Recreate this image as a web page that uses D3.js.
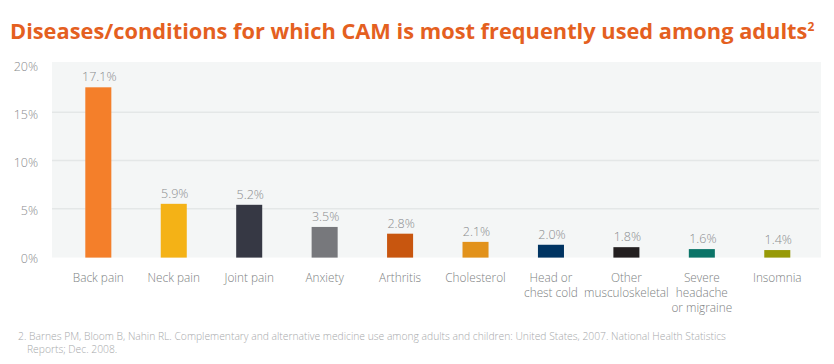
<!DOCTYPE html>
<html>
<head>
<meta charset="utf-8">
<script src="https://cdn.jsdelivr.net/npm/d3@7"></script>
<style>
  body { margin: 0; background: #fff; }
  svg { display: block; font-family: "Open Sans", "Noto Sans", sans-serif; }
</style>
</head>
<body>
<svg id="chart"></svg>
<script>
var width = 834;
var height = 364;

// categories, bar heights (as drawn) and the printed value labels
let categories = ['Back pain', 'Neck pain', 'Joint pain', 'Anxiety', 'Arthritis', 'Cholesterol',
    'Head or chest cold', 'Other musculoskeletal', 'Severe headache or migraine', 'Insomnia']
let categoryLines = [['Back pain'], ['Neck pain'], ['Joint pain'], ['Anxiety'], ['Arthritis'], ['Cholesterol'],
    ['Head or', 'chest cold'], ['Other', 'musculoskeletal'], ['Severe', 'headache', 'or migraine'], ['Insomnia']]
let barValues = [17.6, 5.5, 5.4, 3.1, 2.4, 1.55, 1.25, 1.0, 0.8, 0.7]
let valueLabels = ['17.1%', '5.9%', '5.2%', '3.5%', '2.8%', '2.1%', '2.0%', '1.8%', '1.6%', '1.4%']
let barColors = ['#f47f2a', '#f4b216', '#363844', '#77787c', '#c8560f', '#e2921b', '#003462', '#231f20', '#0b7468', '#979a07']
let yTicks = [0, 5, 10, 15, 20]

const title = 'Diseases/conditions for which CAM is most frequently used among adults'
const footnote = ['2. Barnes PM, Bloom B, Nahin RL. Complementary and alternative medicine use among adults and children: United States, 2007. National Health Statistics',
    'Reports; Dec. 2008.']

var svg = d3.select('#chart').attr('width', width).attr('height', height)

const plotLeft = 52, plotRight = 821, plotTop = 62, plotBottom = 257.5

var y = d3.scaleLinear().domain([0, 20]).range([256.8, 64.2])

var x = d3.scaleBand()
    .domain(categories)
    .range([60.6, 815])
    .paddingInner(0.655)
    .paddingOuter(0.3275)

// title
var titleText = svg.append('text')
    .attr('x', 10)
    .attr('y', 39)
    .attr('fill', '#e4601f')
    .attr('font-size', 21.8)
    .attr('font-weight', 'bold')
    .text(title)
titleText.append('tspan')
    .attr('font-size', 12)
    .attr('dy', -8)
    .text('2')

// plot background
svg.append('rect')
    .attr('x', plotLeft)
    .attr('y', plotTop)
    .attr('width', plotRight - plotLeft)
    .attr('height', plotBottom - plotTop)
    .attr('fill', '#f4f6f6')

// gridlines
svg.append('g')
    .selectAll('line')
    .data(yTicks.filter(d => d > 0 && d < 20))
    .enter()
    .append('line')
    .attr('x1', plotLeft)
    .attr('x2', plotRight - 2)
    .attr('y1', d => y(d))
    .attr('y2', d => y(d))
    .attr('stroke', '#e4e7e7')
    .attr('stroke-width', 1.5)

// y axis labels
var yAxis = d3.axisLeft(y).tickValues(yTicks).tickFormat(d => d + '%').tickSize(0).tickPadding(0)
var yAxisG = svg.append('g')
    .attr('transform', 'translate(38,2)')
    .call(yAxis)
yAxisG.select('.domain').remove()
yAxisG.selectAll('text')
    .attr('fill', '#8a8c8e')
    .attr('font-size', 12.5)
    .attr('font-weight', 300)
    .attr('font-family', '"Open Sans", "Noto Sans", sans-serif')

// bars
svg.append('g')
    .selectAll('rect')
    .data(categories)
    .enter()
    .append('rect')
    .attr('x', d => x(d))
    .attr('width', x.bandwidth())
    .attr('y', (d, i) => y(barValues[i]))
    .attr('height', (d, i) => y(0) - y(barValues[i]) + 0.8)
    .attr('fill', (d, i) => barColors[i])

// value labels
svg.append('g')
    .selectAll('text')
    .data(categories)
    .enter()
    .append('text')
    .attr('x', d => x(d) + x.bandwidth() / 2 + 1)
    .attr('y', (d, i) => y(barValues[i]) - 6)
    .attr('text-anchor', 'middle')
    .attr('fill', '#8a8c8e')
    .attr('font-size', 12.5)
    .attr('font-weight', 300)
    .text((d, i) => valueLabels[i])

// category labels
var catG = svg.append('g')
    .selectAll('text')
    .data(categories)
    .enter()
    .append('text')
    .attr('x', d => x(d) + x.bandwidth() / 2)
    .attr('y', 282)
    .attr('text-anchor', 'middle')
    .attr('fill', '#7d7f82')
    .attr('font-size', 11.8)
    .attr('font-weight', 300)
catG.selectAll('tspan')
    .data((d, i) => categoryLines[i])
    .enter()
    .append('tspan')
    .attr('x', function () { return d3.select(this.parentNode).attr('x') })
    .attr('dy', (d, i) => i == 0 ? 0 : 15)
    .text(d => d)

// footnote
svg.append('g')
    .selectAll('text')
    .data(footnote)
    .enter()
    .append('text')
    .attr('x', (d, i) => i == 0 ? 18 : 27)
    .attr('y', (d, i) => 340 + i * 13)
    .attr('fill', '#a7a9ab')
    .attr('font-size', 10.3)
    .attr('font-weight', 300)
    .text(d => d)
</script>
</body>
</html>
